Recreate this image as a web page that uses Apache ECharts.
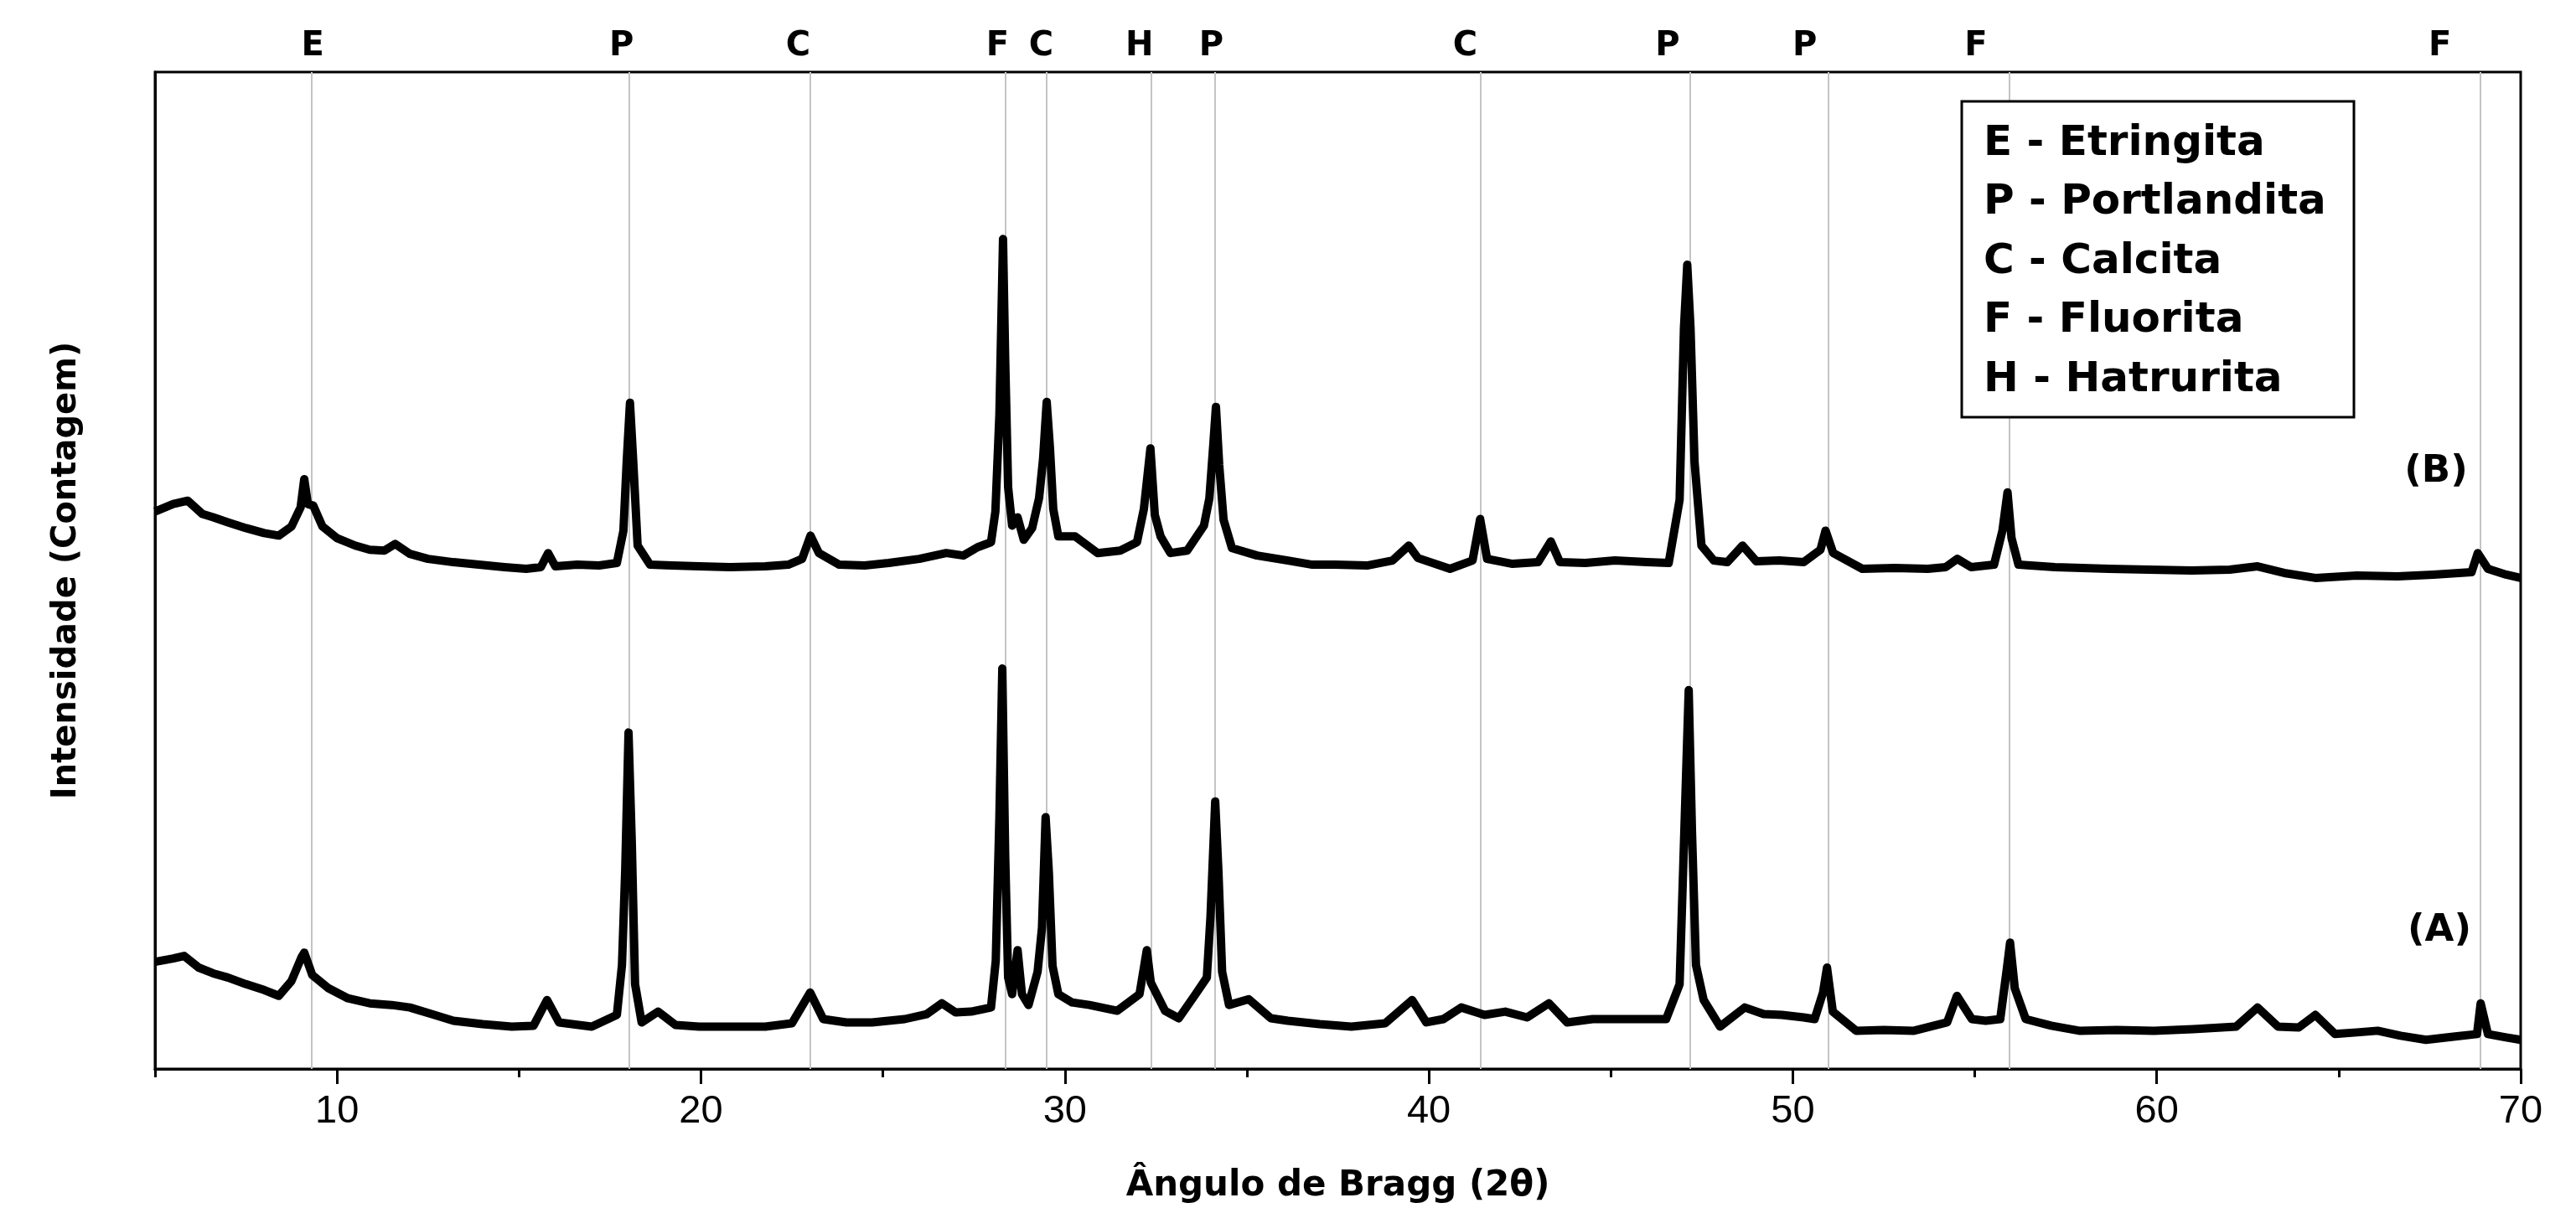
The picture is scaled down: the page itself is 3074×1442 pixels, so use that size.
<!DOCTYPE html>
<html>
<head>
<meta charset="utf-8">
<script src="https://cdn.jsdelivr.net/npm/echarts@6/dist/echarts.min.js"></script>
<style>
html,body{margin:0;padding:0;background:#fff;}
#chart{width:3074px;height:1442px;}
</style>
</head>
<body>
<div id="chart"></div>
<script>
// ---- Data ----
const xTickLabels = [10, 20, 30, 40, 50, 60, 70];
const xMinorTicks = [5, 15, 25, 35, 45, 55, 65];

const phaseLetters = ['E','P','C','F','C','H','P','C','P','P','F','F'];
const phaseAngles = [9.31, 18.02, 23.0, 28.37, 29.49, 32.37, 34.12, 41.41, 47.17, 50.97, 55.95, 68.9];
const phaseLabelAngles = [9.33, 17.82, 22.67, 28.15, 29.35, 32.05, 34.02, 41.0, 46.56, 50.33, 55.03, 67.78];

const legendCodes = ['E','P','C','F','H'];
const legendNames = ['Etringita','Portlandita','Calcita','Fluorita','Hatrurita'];

const sampleNames = ['(A)', '(B)'];

// Sample (B), upper pattern
const bAngle = [5.0,5.5,5.9,6.3,6.6,7.0,7.5,8.0,8.4,8.75,9.0,9.1,9.2,9.35,9.6,10.0,10.5,10.9,11.3,11.6,12.0,12.5,13.2,13.9,14.6,15.2,15.6,15.8,16.0,16.6,17.2,17.69,17.87,17.96,18.05,18.14,18.26,18.6,19.2,19.95,20.8,21.77,22.4,22.78,23.01,23.24,23.8,24.5,25.16,26.0,26.74,27.21,27.6,27.97,28.09,28.2,28.3,28.36,28.44,28.55,28.7,28.87,29.1,29.29,29.4,29.5,29.59,29.68,29.82,30.28,30.9,31.52,31.98,32.17,32.35,32.47,32.63,32.9,33.36,33.82,33.97,34.08,34.15,34.24,34.36,34.59,35.28,36.13,36.8,37.42,38.3,39.0,39.45,39.7,40.58,41.2,41.41,41.6,42.3,43.0,43.35,43.6,44.3,45.11,46.0,46.59,46.89,47.01,47.1,47.19,47.3,47.49,47.83,48.2,48.62,49.0,49.63,50.3,50.76,50.9,51.11,51.91,52.8,53.71,54.2,54.52,54.9,55.53,55.76,55.9,56.01,56.2,57.2,58.69,59.8,60.96,62.0,62.77,63.5,64.36,65.5,66.62,67.6,68.65,68.82,69.1,69.6,70.0];
const bIntensity = [671,680,684,668,664,658,651,645,642,653,676,710,680,678,653,639,630,625,624,632,620,614,610,607,604,602,604,621,605,607,606,609,648,731,802,731,630,607,606,605,604,605,607,614,642,621,607,606,609,614,621,618,628,634,671,787,999,853,700,654,664,637,651,687,734,803,747,674,641,641,621,624,634,674,747,667,641,621,624,654,687,753,797,727,661,627,618,612,607,607,606,612,630,615,602,612,662,614,608,610,635,610,609,612,610,609,685,892,968,892,731,630,612,610,630,611,612,610,625,648,621,602,603,602,604,614,604,607,648,694,639,607,604,602,601,600,601,605,597,591,594,593,595,598,621,602,595,591];

// Sample (A), lower pattern
const aAngle = [5.0,5.5,5.8,6.2,6.6,7.0,7.5,8.0,8.4,8.75,9.02,9.1,9.32,9.77,10.3,10.9,11.5,12.0,12.6,13.2,14.0,14.8,15.4,15.77,16.1,17.0,17.69,17.83,17.92,18.01,18.1,18.19,18.37,18.82,19.3,19.95,20.8,21.77,22.5,23.0,23.36,24.0,24.7,25.6,26.2,26.62,27.0,27.42,27.97,28.1,28.2,28.28,28.36,28.44,28.55,28.7,28.82,29.0,29.25,29.37,29.47,29.56,29.66,29.82,30.2,30.67,31.44,32.05,32.25,32.36,32.75,33.13,33.59,33.9,34.0,34.13,34.22,34.32,34.51,35.05,35.66,36.13,37.0,37.87,38.8,39.54,39.93,40.4,40.89,41.53,42.1,42.7,43.3,43.8,44.5,45.16,45.9,46.52,46.89,47.02,47.14,47.23,47.34,47.55,48.0,48.68,49.2,49.7,50.3,50.6,50.83,50.94,51.1,51.74,52.5,53.33,54.24,54.51,54.92,55.3,55.7,55.88,55.97,56.1,56.4,57.1,57.87,58.9,59.92,61.0,62.18,62.77,63.33,63.9,64.36,64.9,65.5,66.07,66.7,67.4,68.2,68.8,68.9,69.1,69.6,70.0];
const aIntensity = [129,133,136,122,115,110,102,95,88,106,134,140,113,97,85,79,77,74,66,58,54,51,52,83,56,51,65,125,240,405,272,102,56,69,53,51,51,51,55,92,60,56,56,60,66,79,68,69,74,130,303,482,256,110,90,143,90,77,117,170,303,236,124,90,80,77,70,90,143,104,70,61,90,110,183,322,236,117,77,84,61,58,54,51,55,83,56,60,74,65,69,62,79,56,60,60,60,60,102,286,456,286,125,83,51,74,66,65,62,60,92,122,69,46,47,46,56,88,60,58,60,120,152,97,60,52,46,47,46,48,51,74,51,50,65,42,44,46,40,35,39,42,79,42,38,35];

// ---- Chart ----
const chart = echarts.init(document.getElementById('chart'), null, {renderer: 'canvas'});

const pairs = (xs, ys) => xs.map((x, i) => [x, ys[i]]);

const legendGraphics = [{
  type: 'rect',
  shape: {x: 2341, y: 121, width: 468, height: 377},
  style: {fill: '#fff', stroke: '#000', lineWidth: 3},
  z: 10
}].concat(legendCodes.map((c, i) => ({
  type: 'text',
  x: 2367,
  y: 172 + i * 70.5,
  z: 11,
  style: {
    text: c + ' - ' + legendNames[i],
    fill: '#000',
    fontSize: 50,
    fontWeight: 'bold',
    fontFamily: 'DejaVu Sans',
    textAlign: 'left',
    textVerticalAlign: 'middle',
    align: 'left',
    verticalAlign: 'middle'
  }
})));

const sampleGraphics = [
  {pos: [2911, 1111], text: sampleNames[0]},
  {pos: [2907, 563], text: sampleNames[1]}
].map(s => ({
  type: 'text',
  x: s.pos[0],
  y: s.pos[1],
  z: 11,
  style: {
    text: s.text,
    fill: '#000',
    fontSize: 45,
    fontWeight: 'bold',
    fontFamily: 'DejaVu Sans',
    textAlign: 'center',
    textVerticalAlign: 'middle',
    align: 'center',
    verticalAlign: 'middle'
  }
}));

const option = {
  animation: false,
  backgroundColor: '#fff',
  grid: {
    left: 185, right: 66, top: 86, bottom: 160,
    show: true, borderColor: '#000', borderWidth: 3, backgroundColor: 'transparent'
  },
  xAxis: [
    {
      type: 'value', min: 5, max: 70, position: 'bottom',
      name: 'Ângulo de Bragg (2θ)',
      nameLocation: 'middle',
      nameGap: 119,
      nameTextStyle: {fontFamily: 'DejaVu Sans', fontWeight: 'bold', fontSize: 42, color: '#000'},
      axisLine: {show: true, lineStyle: {color: '#000', width: 3}},
      axisTick: {show: true, inside: false, length: 18, customValues: xTickLabels, lineStyle: {color: '#000', width: 3}},
      axisLabel: {show: true, customValues: xTickLabels, margin: 28, fontFamily: 'Liberation Sans', fontSize: 47, color: '#000'},
      splitLine: {show: false}
    },
    {
      type: 'value', min: 5, max: 70, position: 'top',
      axisLine: {show: false},
      axisTick: {show: false},
      splitLine: {show: false},
      axisLabel: {
        show: true,
        customValues: phaseLabelAngles,
        margin: 10,
        fontFamily: 'DejaVu Sans', fontWeight: 'bold', fontSize: 40, color: '#000',
        formatter: function (v) {
          const i = phaseLabelAngles.indexOf(v);
          return i >= 0 ? phaseLetters[i] : '';
        }
      }
    },
    {
      type: 'value', min: 5, max: 70, position: 'bottom',
      axisLine: {show: false},
      axisLabel: {show: false},
      splitLine: {show: false},
      axisTick: {show: true, inside: false, length: 10, customValues: xMinorTicks, lineStyle: {color: '#000', width: 3}}
    }
  ],
  yAxis: {
    type: 'value', min: 0, max: 1200,
    name: 'Intensidade (Contagem)',
    nameLocation: 'middle',
    nameRotate: 90,
    nameGap: 85,
    nameTextStyle: {fontFamily: 'DejaVu Sans', fontWeight: 'bold', fontSize: 40, color: '#000'},
    axisLine: {show: true, lineStyle: {color: '#000', width: 3}},
    axisTick: {show: false},
    axisLabel: {show: false},
    splitLine: {show: false}
  },
  series: [
    {
      type: 'line', name: 'phases', data: [], z: 1, silent: true,
      markLine: {
        silent: true, z: 1, animation: false,
        symbol: ['none', 'none'],
        label: {show: false},
        lineStyle: {color: '#c4c4c4', width: 2, type: 'solid'},
        data: phaseAngles.map(a => ({xAxis: a}))
      }
    },
    {
      type: 'line', name: sampleNames[1], data: pairs(bAngle, bIntensity),
      showSymbol: false, symbol: 'none', z: 3, silent: true,
      lineStyle: {color: '#000', width: 10, join: 'round'}
    },
    {
      type: 'line', name: sampleNames[0], data: pairs(aAngle, aIntensity),
      showSymbol: false, symbol: 'none', z: 3, silent: true,
      lineStyle: {color: '#000', width: 10, join: 'round'}
    }
  ],
  graphic: legendGraphics.concat(sampleGraphics)
};

chart.setOption(option);
</script>
</body>
</html>
